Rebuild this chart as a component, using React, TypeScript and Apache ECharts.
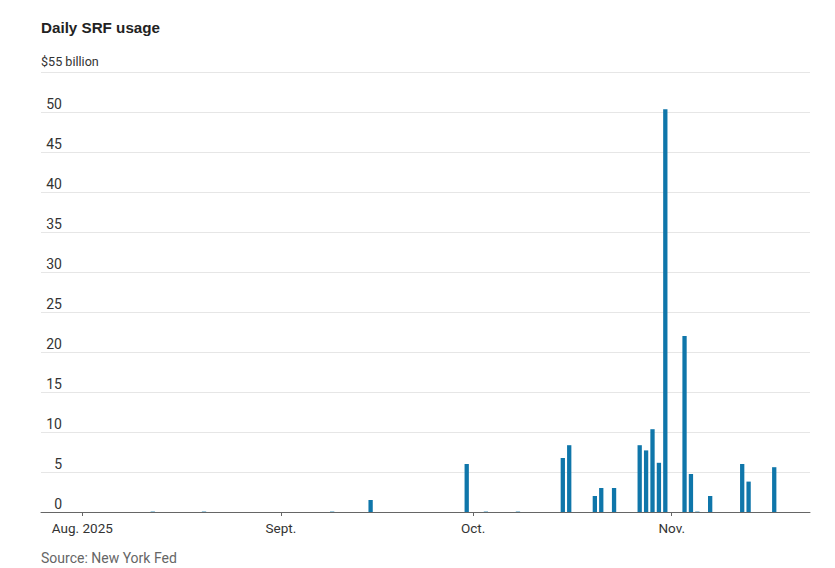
import React, { useEffect, useRef } from "react";
import * as echarts from "echarts";

const usageDates: string[] = [
  "2025-08-12", "2025-08-20", "2025-09-09", "2025-09-15", "2025-09-30",
  "2025-10-03", "2025-10-08", "2025-10-15", "2025-10-16", "2025-10-20",
  "2025-10-21", "2025-10-23", "2025-10-27", "2025-10-28", "2025-10-29",
  "2025-10-30", "2025-10-31", "2025-11-03", "2025-11-04", "2025-11-05",
  "2025-11-07", "2025-11-12", "2025-11-13", "2025-11-17",
];
const usageValues: number[] = [
  0.05, 0.05, 0.05, 1.5, 6.0,
  0.05, 0.05, 6.75, 8.35, 2.0,
  3.0, 3.0, 8.35, 7.7, 10.35,
  6.15, 50.35, 22.0, 4.75, 0.05,
  2.0, 6.0, 3.8, 5.6,
];
const monthTicks: string[] = ["2025-08-01", "2025-09-01", "2025-10-01", "2025-11-01"];
const monthLabels: string[] = ["Aug. 2025", "Sept.", "Oct.", "Nov."];
const yTicks: number[] = [0, 5, 10, 15, 20, 25, 30, 35, 40, 45, 50, 55];

const DAY = 86400000;
const toTs = (s: string) => {
  const [y, m, d] = s.split("-").map(Number);
  return Date.UTC(y, m - 1, d);
};

const NARROW = "Roboto, 'DejaVu Sans Condensed', sans-serif";

export default function App() {
  const ref = useRef<HTMLDivElement>(null);
  useEffect(() => {
    document.body.style.margin = "0";
    if (!ref.current) return;
    const chart = echarts.init(ref.current, undefined, { renderer: "svg" });
    const tickTs = monthTicks.map(toTs);
    const xMin = tickTs[0] - 6.447 * DAY;
    const xMax = xMin + 120.03 * DAY;
    chart.setOption({
      animation: false,
      backgroundColor: "#ffffff",
      grid: { left: 41, right: 25, top: 72, bottom: 56 },
      graphic: [
        {
          type: "text",
          left: 41,
          top: 20,
          style: {
            text: "Daily SRF usage",
            fontFamily: "'Liberation Sans', Arial, sans-serif",
            fontWeight: "bold",
            fontSize: 15.2,
            fill: "#222222",
          },
        },
        {
          type: "text",
          left: 41,
          top: 55,
          style: {
            text: "$55 billion",
            fontFamily: NARROW,
            fontSize: 12.6,
            fill: "#333333",
          },
        },
        {
          type: "text",
          left: 41,
          top: 551,
          style: {
            text: "Source: New York Fed",
            fontFamily: NARROW,
            fontSize: 14,
            fill: "#666666",
          },
        },
      ],
      xAxis: {
        type: "value",
        min: xMin,
        max: xMax,
        splitLine: { show: false },
        axisLine: { show: true, lineStyle: { color: "#666666", width: 1 } },
        axisTick: {
          show: true,
          length: 4,
          lineStyle: { color: "#666666" },
          customValues: tickTs,
        },
        axisLabel: {
          customValues: tickTs,
          margin: 9,
          fontFamily: NARROW,
          fontSize: 13.5,
          color: "#333333",
          formatter: (v: number) => {
            const i = tickTs.indexOf(v);
            return i >= 0 ? monthLabels[i] : "";
          },
        },
      },
      yAxis: {
        type: "value",
        min: yTicks[0],
        max: yTicks[yTicks.length - 1],
        interval: 5,
        axisLine: { show: false },
        axisTick: { show: false },
        splitLine: { show: true, lineStyle: { color: "#e6e6e6", width: 1 } },
        axisLabel: {
          inside: true,
          align: "right",
          verticalAlign: "bottom",
          margin: 21,
          lineHeight: 15,
          padding: [0, 0, 1, 0],
          fontFamily: NARROW,
          fontSize: 14,
          color: "#333333",
          formatter: (v: number) => (v === 55 ? "" : String(v)),
        },
      },
      series: [
        {
          type: "bar",
          barWidth: 4.3,
          itemStyle: { color: "#0f76aa" },
          data: usageDates.map((d, i) => [toTs(d), usageValues[i]]),
        },
      ],
    });
    return () => chart.dispose();
  }, []);
  return <div ref={ref} style={{ width: 835, height: 568 }} />;
}
